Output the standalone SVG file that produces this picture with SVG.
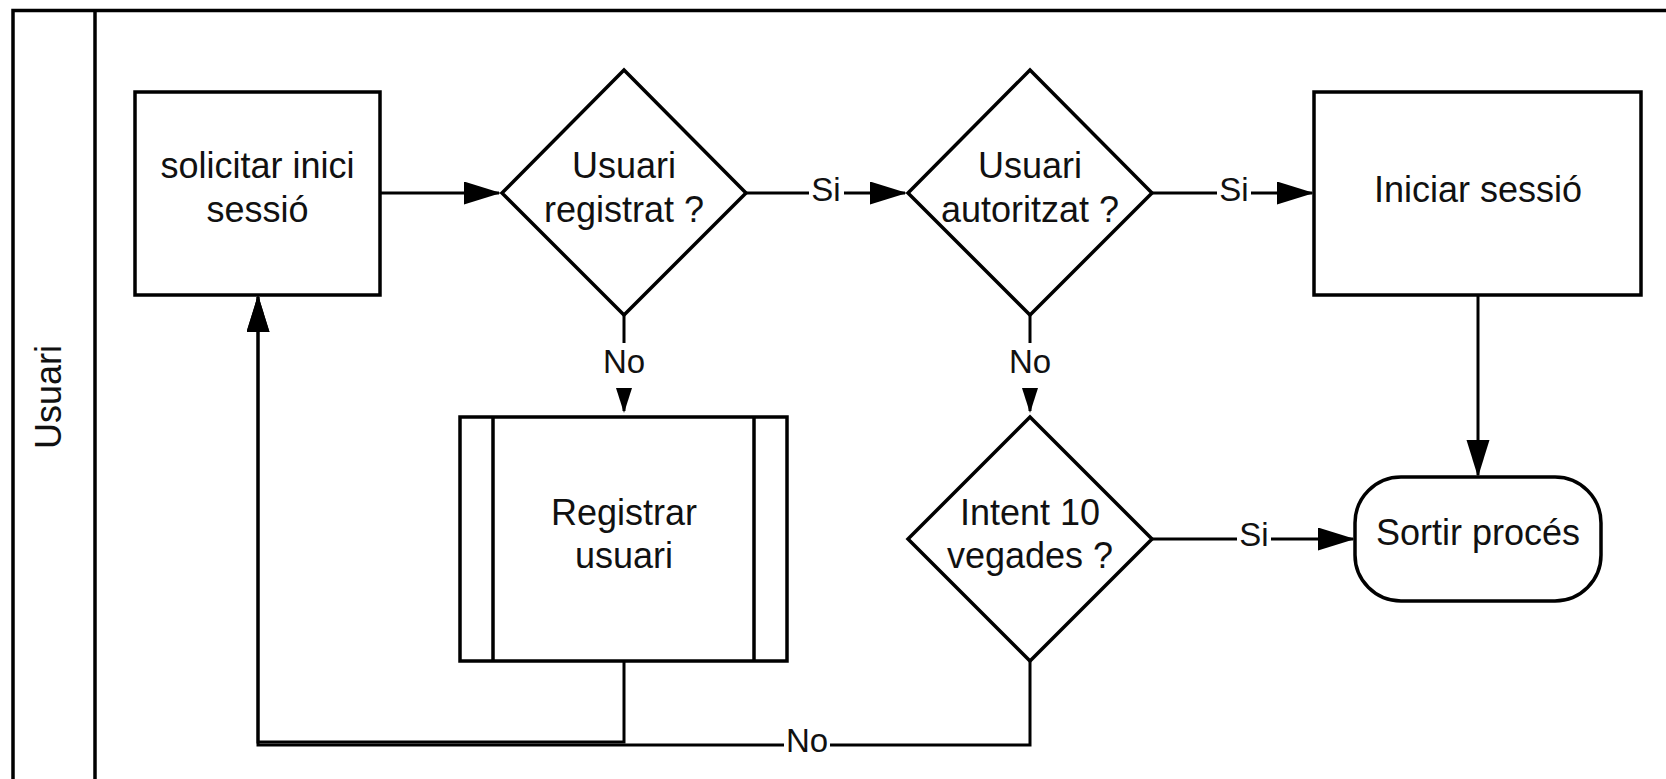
<svg xmlns="http://www.w3.org/2000/svg" width="1666" height="779" viewBox="0 0 1666 779">
  <style>
    .shape { fill: #ffffff; stroke: #000000; stroke-width: 3.5; }
    .bar { fill: none; stroke: #000000; stroke-width: 3.5; }
    .edge { fill: none; stroke: #000000; stroke-width: 3; }
    .big { marker-end: url(#arrowBig); }
    .small { marker-end: url(#arrowSmall); }
    text { font-family: "Liberation Sans", Arial, sans-serif; fill: #111111; text-anchor: middle; }
    .node { font-size: 36px; }
    .lbl { font-size: 33px; }
  </style>
  <defs>
    <marker id="arrowBig" markerUnits="userSpaceOnUse" markerWidth="38" markerHeight="24" refX="35" refY="11.5" orient="auto">
      <path d="M0,0 L37,11.5 L0,23 Z" fill="#000000"/>
    </marker>
    <marker id="arrowSmall" markerUnits="userSpaceOnUse" markerWidth="26" markerHeight="17" refX="23" refY="8" orient="auto">
      <path d="M0,0 L25,8 L0,16 Z" fill="#000000"/>
    </marker>
  </defs>

  <rect width="1666" height="779" fill="#ffffff"/>

  <!-- swimlane frame -->
  <g id="lane">
    <path class="bar" d="M13,790 V10.5 H1680"/>
    <path class="bar" d="M95,10.5 V790"/>
    <text class="node" transform="translate(61,397) rotate(-90)">Usuari</text>
  </g>

  <!-- connectors -->
  <g id="connectors">
    <path class="edge big" d="M380,193 H499"/>
    <path class="edge" d="M746,193 H809"/>
    <path class="edge big" d="M844,193 H905"/>
    <text class="lbl" x="826" y="201">Si</text>
    <path class="edge" d="M1152,193 H1217"/>
    <path class="edge big" d="M1251,193 H1312"/>
    <text class="lbl" x="1234" y="201">Si</text>
    <path class="edge" d="M624,315 V343"/>
    <path class="edge small" d="M624,388 V411"/>
    <text class="lbl" x="624" y="373">No</text>
    <path class="edge" d="M1030,315 V343"/>
    <path class="edge small" d="M1030,388 V411"/>
    <text class="lbl" x="1030" y="373">No</text>
    <path class="edge big" d="M1478,295 V475"/>
    <path class="edge" d="M1152,539 H1237"/>
    <path class="edge big" d="M1271,539 H1353"/>
    <text class="lbl" x="1254" y="546">Si</text>
    <path class="edge big" d="M624,661 V742 H258 V297"/>
    <path class="edge" d="M1030,661 V745 H830"/>
    <path class="edge big" d="M784,745 H258 V297"/>
    <text class="lbl" x="807" y="752">No</text>
  </g>

  <g id="solicitar">
    <rect class="shape" x="135" y="92" width="245" height="203"/>
    <text class="node" x="257.5" y="178">solicitar inici</text>
    <text class="node" x="257.5" y="222">sessió</text>
  </g>

  <g id="registrat">
    <polygon class="shape" points="624,70 746,193 624,315 502,193"/>
    <text class="node" x="624" y="178">Usuari</text>
    <text class="node" x="624" y="222">registrat ?</text>
  </g>

  <g id="autoritzat">
    <polygon class="shape" points="1030,70 1152,193 1030,315 908,193"/>
    <text class="node" x="1030" y="178">Usuari</text>
    <text class="node" x="1030" y="222">autoritzat ?</text>
  </g>

  <g id="iniciar">
    <rect class="shape" x="1314" y="92" width="327" height="203"/>
    <text class="node" x="1478" y="202">Iniciar sessió</text>
  </g>

  <g id="registrar">
    <rect class="shape" x="460" y="417" width="327" height="244"/>
    <path class="bar" d="M493,417 V661 M754,417 V661"/>
    <text class="node" x="624" y="525">Registrar</text>
    <text class="node" x="624" y="568">usuari</text>
  </g>

  <g id="intent">
    <polygon class="shape" points="1030,417 1152,539 1030,661 908,539"/>
    <text class="node" x="1030" y="525">Intent 10</text>
    <text class="node" x="1030" y="568">vegades ?</text>
  </g>

  <g id="sortir">
    <rect class="shape" x="1355" y="477" width="246" height="124" rx="46" ry="46"/>
    <text class="node" x="1478" y="545">Sortir procés</text>
  </g>
</svg>
